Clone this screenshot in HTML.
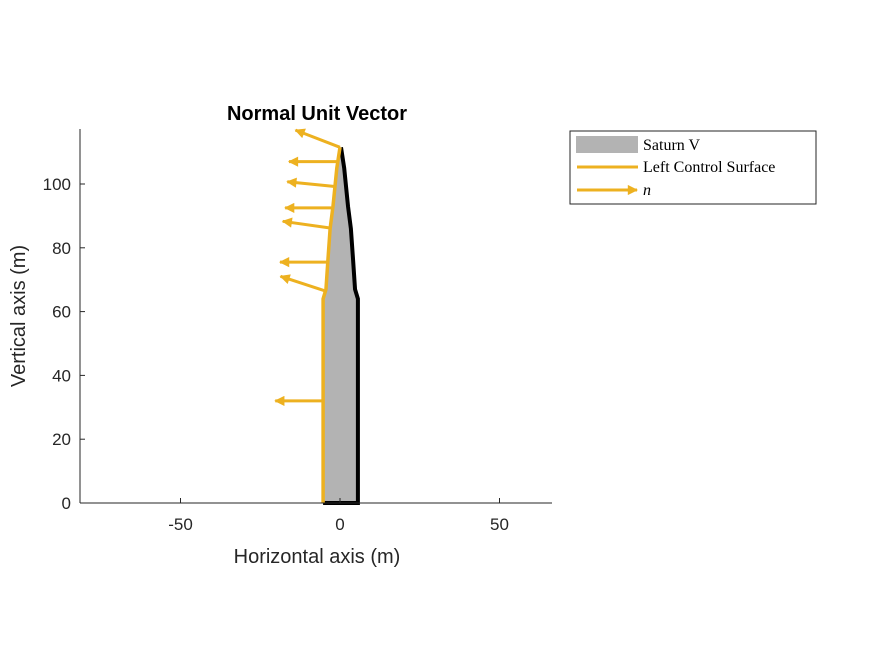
<!DOCTYPE html>
<html><head><meta charset="utf-8"><style>
body{margin:0;background:#fff;}
svg text{font-family:"Liberation Sans",sans-serif;fill:#262626;}
</style></head><body>
<svg width="875" height="656" viewBox="0 0 875 656">
<defs><marker id="ah" viewBox="0 0 10 10" refX="9" refY="5" markerWidth="4.2" markerHeight="3.4" orient="auto" markerUnits="strokeWidth"><path d="M0,0 L10,5 L0,10 z" fill="#EDB120"/></marker></defs>
<rect x="80" y="129" width="472" height="374" fill="#fff"/>
<g id="marks"></g>
<line x1="80" y1="129" x2="80" y2="503" stroke="#262626" stroke-width="1"/>
<line x1="80" y1="503" x2="552" y2="503" stroke="#262626" stroke-width="1"/>
<g id="ticks"></g>
<text x="317" y="120" text-anchor="middle" font-size="20" font-weight="bold" style="fill:#000">Normal Unit Vector</text>
<text x="317" y="563" text-anchor="middle" font-size="20">Horizontal axis (m)</text>
<text transform="translate(25,316) rotate(-90)" text-anchor="middle" font-size="20">Vertical axis (m)</text>
<g>
<rect x="570" y="131" width="246" height="73" fill="#fff" stroke="#262626" stroke-width="1"/>
<rect x="576" y="136" width="62" height="17" fill="#b3b3b3"/>
<text x="643" y="150" font-size="16" style="font-family:'Liberation Serif',serif;fill:#000">Saturn V</text>
<line x1="577" y1="167" x2="638" y2="167" stroke="#EDB120" stroke-width="3"/>
<text x="643" y="172" font-size="16" style="font-family:'Liberation Serif',serif;fill:#000">Left Control Surface</text>
<line x1="577" y1="190" x2="637" y2="190" stroke="#EDB120" stroke-width="3" marker-end="url(#ah)"/>
<text x="643" y="195" font-size="16" font-style="italic" style="font-family:'Liberation Serif',serif;fill:#000">n⃗</text>
</g>
</svg>
<script>
const xTicks=[-50,0,50];
const yTicks=[0,20,40,60,80,100];
const profileHalfWidth=[5.3,5.3,4.4,3.8,3.1,2.2,1.6,1.0,0];
const profileHeight=[0,64,67,76,86,93,99,105,111.5];
const arrowTailX=[0,-1,-1.6,-2.2,-3.1,-3.8,-4.4,-5.3];
const arrowTailY=[111.5,107,99.2,92.5,86.2,75.5,66.4,32];
const arrowDirX=[-0.93,-1,-0.995,-1,-0.99,-1,-0.95,-1];
const arrowDirY=[0.36,0,0.1,0,0.14,0,0.31,0];
const arrowLen=15;
const X=v=>340+v*3.19, Y=v=>503-v*3.19;
const NS="http://www.w3.org/2000/svg";
const marks=document.getElementById('marks'), ticks=document.getElementById('ticks');
function mk(t,a,p){const e=document.createElementNS(NS,t);for(const k in a)e.setAttribute(k,a[k]);p.appendChild(e);return e;}
let pts=[];
for(let i=0;i<profileHeight.length;i++)pts.push(X(profileHalfWidth[i])+','+Y(profileHeight[i]));
for(let i=profileHeight.length-1;i>=0;i--)pts.push(X(-profileHalfWidth[i])+','+Y(profileHeight[i]));
const body=mk('polygon',{points:pts.join(' '),fill:'#b3b3b3'},marks);


let rp=[X(-profileHalfWidth[0])+','+Y(0)];
for(let i=0;i<profileHeight.length;i++)rp.push((X(profileHalfWidth[i])+1)+','+Y(profileHeight[i]));
const rEdge=mk('polyline',{points:rp.join(' '),fill:'none',stroke:'#000','stroke-width':4},marks);


let lp=[];
for(let i=0;i<profileHeight.length;i++)lp.push(X(-profileHalfWidth[i])+','+Y(profileHeight[i]));
const lEdge=mk('polyline',{points:lp.join(' '),fill:'none',stroke:'#EDB120','stroke-width':3.5},marks);


for(let i=0;i<arrowTailX.length;i++){
  const a=mk('line',{x1:X(arrowTailX[i]),y1:Y(arrowTailY[i]),x2:X(arrowTailX[i]+arrowDirX[i]*arrowLen),y2:Y(arrowTailY[i]+arrowDirY[i]*arrowLen),stroke:'#EDB120','stroke-width':3,'marker-end':'url(#ah)'},marks);
  
  
}
xTicks.forEach(v=>{
  const l=mk('line',{x1:X(v),y1:503,x2:X(v),y2:498,stroke:'#262626'},ticks);
  
  
  const t=mk('text',{x:X(v),y:530,'text-anchor':'middle','font-size':17},ticks);t.textContent=v;
  
  
});
yTicks.forEach(v=>{
  const l=mk('line',{x1:80,y1:Y(v),x2:85,y2:Y(v),stroke:'#262626'},ticks);
  
  
  const t=mk('text',{x:71,y:Y(v)+6,'text-anchor':'end','font-size':17},ticks);t.textContent=v;
  
  
});
</script>
</body></html>
